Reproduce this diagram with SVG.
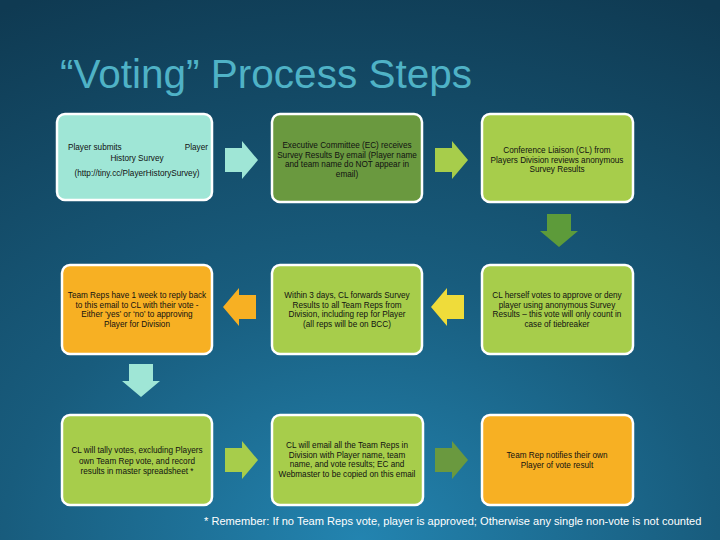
<svg xmlns="http://www.w3.org/2000/svg" xmlns:xlink="http://www.w3.org/1999/xlink" width="720" height="540" viewBox="0 0 720 540">
<defs>
<radialGradient id="bg" cx="50%" cy="100%" r="110%" fx="50%" fy="100%">
<stop offset="0" stop-color="#2384b0"/>
<stop offset="0.45" stop-color="#185c7d"/>
<stop offset="1" stop-color="#0f3a52"/>
</radialGradient>
<path id="arr" d="M0,7 H17 V0 L33,19 L17,38 V31 H0 Z"/>
<style>
.box{stroke:#ffffff;stroke-width:2.5}
.t{font-family:"Liberation Sans",Arial,sans-serif;font-size:8.2px;fill:#111;text-anchor:middle}
.mint{fill:#9fe6d6}
.olive{fill:#6a993f}
.lime{fill:#a7cd4b}
.orange{fill:#f7b023}
.yellow{fill:#efdc3a}
.green{fill:#5d9b3a}
</style>
</defs>
<rect width="720" height="540" fill="url(#bg)"/>
<text x="60" y="88" font-family="Liberation Sans, Arial, sans-serif" font-size="40.5" fill="#4fb2c6">“Voting” Process Steps</text>

<g id="connectors">
<use xlink:href="#arr" class="mint" transform="translate(225,141)"/>
<use xlink:href="#arr" class="lime" transform="translate(435,141)"/>
<use xlink:href="#arr" class="green" transform="translate(578,214) rotate(90)"/>
<use xlink:href="#arr" class="yellow" transform="translate(464,288) scale(-1,1)"/>
<use xlink:href="#arr" class="orange" transform="translate(256,288) scale(-1,1)"/>
<use xlink:href="#arr" class="mint" transform="translate(160,364) rotate(90)"/>
<use xlink:href="#arr" class="lime" transform="translate(225,441)"/>
<use xlink:href="#arr" class="olive" transform="translate(435,441)"/>
</g>

<g id="n1">
<rect class="box mint" x="57" y="114" width="155" height="86" rx="8"/>
<text class="t" x="68" y="150" style="text-anchor:start">Player submits</text>
<text class="t" x="208" y="150" style="text-anchor:end">Player</text>
<text class="t" x="137" y="161">History Survey</text>
<text class="t" x="137" y="176">(http://tiny.cc/PlayerHistorySurvey)</text>
</g>
<g id="n2">
<rect class="box olive" x="272" y="114" width="150" height="88" rx="8"/>
<text class="t" x="347" y="148">Executive Committee (EC) receives</text>
<text class="t" x="347" y="157.5">Survey Results By email (Player name</text>
<text class="t" x="347" y="167">and team name do NOT appear in</text>
<text class="t" x="347" y="176.5">email)</text>
</g>
<g id="n3">
<rect class="box lime" x="482" y="114" width="151" height="88" rx="8"/>
<text class="t" x="557" y="153">Conference Liaison (CL) from</text>
<text class="t" x="557" y="162.5">Players Division reviews anonymous</text>
<text class="t" x="557" y="172">Survey Results</text>
</g>
<g id="n4">
<rect class="box orange" x="62" y="265" width="150" height="89" rx="8"/>
<text class="t" x="137" y="298">Team Reps have 1 week to reply back</text>
<text class="t" x="137" y="307.5">to this email to CL with their vote -</text>
<text class="t" x="137" y="317">Either ‘yes’ or ‘no’ to approving</text>
<text class="t" x="137" y="326.5">Player for Division</text>
</g>
<g id="n5">
<rect class="box lime" x="272" y="265" width="150" height="89" rx="8"/>
<text class="t" x="347" y="298">Within 3 days, CL forwards Survey</text>
<text class="t" x="347" y="307.5">Results to all Team Reps from</text>
<text class="t" x="347" y="317">Division, including rep for Player</text>
<text class="t" x="347" y="326.5">(all reps will be on BCC)</text>
</g>
<g id="n6">
<rect class="box lime" x="482" y="265" width="151" height="89" rx="8"/>
<text class="t" x="557" y="298">CL herself votes to approve or deny</text>
<text class="t" x="557" y="307.5">player using anonymous Survey</text>
<text class="t" x="557" y="317">Results – this vote will only count in</text>
<text class="t" x="557" y="326.5">case of tiebreaker</text>
</g>
<g id="n7">
<rect class="box lime" x="62" y="415" width="150" height="90" rx="8"/>
<text class="t" x="137" y="453">CL will tally votes, excluding Players</text>
<text class="t" x="137" y="463.5">own Team Rep vote, and record</text>
<text class="t" x="137" y="474">results in master spreadsheet *</text>
</g>
<g id="n8">
<rect class="box lime" x="272" y="415" width="151" height="90" rx="8"/>
<text class="t" x="347" y="448">CL will email all the Team Reps in</text>
<text class="t" x="347" y="457.5">Division with Player name, team</text>
<text class="t" x="347" y="467">name, and vote results; EC and</text>
<text class="t" x="347" y="476.5">Webmaster to be copied on this email</text>
</g>
<g id="n9">
<rect class="box orange" x="482" y="415" width="151" height="90" rx="8"/>
<text class="t" x="557" y="458">Team Rep notifies their own</text>
<text class="t" x="557" y="468">Player of vote result</text>
</g>

<text x="204" y="525" font-family="Liberation Sans, Arial, sans-serif" font-size="11.1" fill="#ffffff">* Remember: If no Team Reps vote, player is approved; Otherwise any single non-vote is not counted</text>
</svg>
